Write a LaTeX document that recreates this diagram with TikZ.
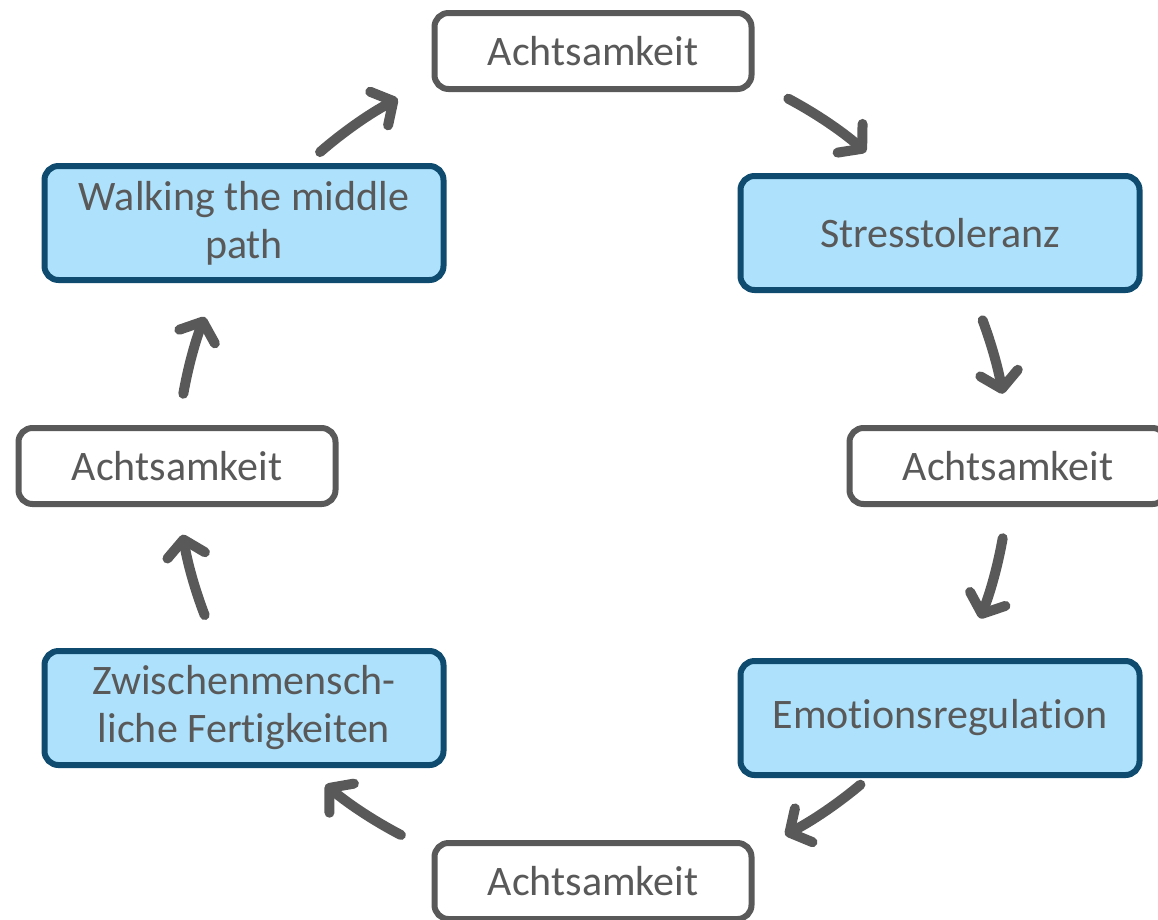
\documentclass[tikz,border=0pt]{standalone}
\usepackage{fontspec}
\setmainfont{Carlito}[Ligatures=NoCommon]
\usepackage{xcolor}
\usetikzlibrary{arrows.meta}
\definecolor{slategray}{RGB}{89, 89, 89}
\definecolor{deepteal}{RGB}{14, 75, 110}
\definecolor{skyfill}{RGB}{174, 226, 252}

\begin{document}
\begin{tikzpicture}[
        x=1pt, y=1pt,
        mindbox/.style = {draw=slategray, line width=6pt, fill=white, rectangle, rounded corners=14pt, minimum width=317pt, minimum height=76pt, align=center, text=slategray, font=\fontsize{42}{48}\selectfont},
        skillbox/.style = {mindbox, draw=deepteal, fill=skyfill, minimum width=399pt, minimum height=114pt},
        arrow/.style = {slategray, line width=10pt, line cap=round, -{Straight Barb[length=16pt, width=38pt, round]}}
    ]
        \useasboundingbox (0,0) rectangle (1158,-919);
        \coordinate (hub) at (593,-466);

        % Nodes
        \node [mindbox] (acht_top) at (593,-51) {Achtsamkeit};
        \node [skillbox] (stress) at (940,-233) {Stresstoleranz};
        \node [mindbox] (acht_right) at (1008,-466) {Achtsamkeit};
        \node [skillbox] (emotion) at (940,-718) {Emotionsregulation};
        \node [mindbox] (acht_bottom) at (593,-881) {Achtsamkeit};
        \node [skillbox] (social) at (244,-708) {Zwischenmensch-\\liche Fertigkeiten};
        \node [mindbox] (acht_left) at (177,-466) {Achtsamkeit};
        \node [skillbox] (middle) at (244,-223) {Walking the middle\\path};

        % Connections
        \draw [arrow] ([shift={(131:416)}]hub) arc [start angle=131, end angle=118, radius=416];
        \draw [arrow] ([shift={(62:416)}]hub) arc [start angle=62, end angle=49, radius=416];
        \draw [arrow] ([shift={(20.5:416)}]hub) arc [start angle=20.5, end angle=10, radius=416];
        \draw [arrow] ([shift={(-10:416)}]hub) arc [start angle=-10, end angle=-21.5, radius=416];
        \draw [arrow] ([shift={(-50:416)}]hub) arc [start angle=-50, end angle=-62.5, radius=416];
        \draw [arrow] ([shift={(-117.5:416)}]hub) arc [start angle=-117.5, end angle=-130, radius=416];
        \draw [arrow] ([shift={(-159:416)}]hub) arc [start angle=-159, end angle=-170.5, radius=416];
        \draw [arrow] ([shift={(170:416)}]hub) arc [start angle=170, end angle=159, radius=416];
\end{tikzpicture}
\end{document}
